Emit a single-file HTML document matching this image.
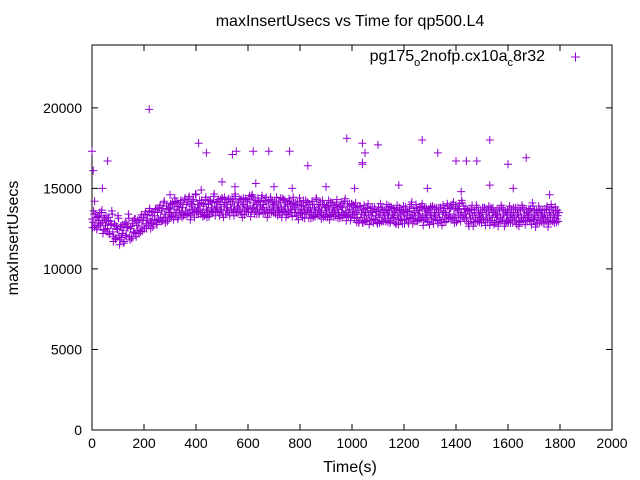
<!DOCTYPE html>
<html><head><meta charset="utf-8"><style>
html,body{margin:0;padding:0;background:#fff}
svg{display:block;font-family:"Liberation Sans",sans-serif}
</style></head><body>
<svg id="chart" width="640" height="480" viewBox="0 0 640 480">
<rect width="640" height="480" fill="#fff"/>
<text x="350" y="26" font-size="16" text-anchor="middle">maxInsertUsecs vs Time for qp500.L4</text>
<text x="350" y="472" font-size="16" text-anchor="middle">Time(s)</text>
<text transform="translate(18,238) rotate(-90)" font-size="16" text-anchor="middle">maxInsertUsecs</text>
<g id="axes"></g>
<g id="points"></g>
<text x="545" y="61" font-size="16" text-anchor="end">pg175<tspan font-size="11" dy="5">o</tspan><tspan dy="-5">2nofp.cx10a</tspan><tspan font-size="11" dy="5">c</tspan><tspan dy="-5">8r32</tspan></text>
<path d="M571 57h9M575.5 52.5v9" stroke="#9400d3" stroke-width="1"/>
</svg>
<script>
const xTicks=[0,200,400,600,800,1000,1200,1400,1600,1800,2000];
const yTicks=[0,5000,10000,15000,20000];
const bandStep=4;
const bandValues=[
13100,12900,13400,12700,13200,12600,13000,13300,12800,13500,12900,12400,13100,12700,13000,
12500,13000,12200,12800,13600,12300,12000,12700,11900,12500,13300,12100,11800,12600,12200,
12400,11700,12900,12100,12600,13400,12000,12500,11900,12800,12300,13100,12200,12700,12400,
12900,12300,13200,12600,13000,12500,13400,12800,13100,12700,13600,13000,12900,13300,12800,
13300,13700,12900,13500,13100,13800,13200,13600,13000,14100,13400,13200,13700,13100,13500,
13800,13400,14000,13300,13700,14200,13500,13900,13200,13600,14100,13500,13800,13300,14300,
13600,14000,13400,14400,13700,13300,13900,14200,13500,13800,14600,13400,13700,14000,13600,
14100,13500,13900,13300,14300,13700,13600,14000,13400,14200,13800,13500,14500,13900,13600,
13800,14200,13500,14000,13700,14400,13400,13900,14100,13600,13800,14300,13500,14000,13700,
14200,13600,13900,14500,13500,13800,14100,13700,14300,13400,13900,14000,13600,14200,13800,
13700,14300,13900,13500,14600,13800,14100,13600,14000,13700,14200,13500,13900,14400,13800,
14000,13600,14200,13800,13500,14100,13700,14300,13600,13900,14000,13500,14200,13800,13700,
13600,14100,13800,13500,14300,13700,13900,13400,14000,13600,14200,13700,13500,13900,14100,
13800,13500,14000,13300,13700,14200,13600,13400,13900,13700,13500,14100,13600,13800,13400,
13700,13500,14000,13300,13800,13600,14300,13400,13700,13900,13500,13600,14000,13300,13800,
13600,13400,13900,13700,13300,14100,13500,13800,13600,13400,14000,13700,13500,13300,13900,
13500,13800,13400,14200,13600,13300,13900,13500,13700,13200,14000,13600,13400,13800,13500,
13200,13600,13000,13900,13400,12900,13700,13300,13500,13100,13800,13400,13000,13600,13300,
13500,13100,13700,13300,12900,13600,13200,13400,13800,13000,13500,13300,13100,13700,13400,
13300,13600,13000,13800,13400,13200,13500,12800,13700,13300,13100,13600,13400,13000,13500,
13400,13100,13700,13300,12900,13600,13200,14000,13400,13100,13500,13300,13800,13000,13400,
13600,13200,13900,13300,13000,13700,13400,13200,13600,12900,13500,13300,13800,13100,13400,
13300,13700,13000,13500,13200,13800,12900,13400,13600,13100,13500,13300,13900,13200,13400,
13800,13100,14000,13400,13200,13700,13000,13600,13900,13300,13500,14100,13200,13700,13400,
13200,13600,12800,13400,13100,13700,13300,12900,13500,13200,13800,13000,13400,13300,13100,
13500,13200,13800,12900,13400,13100,13600,13300,13000,13700,13200,13500,12900,13400,13200,
13300,12900,13600,13200,13800,13100,13400,12800,13500,13300,13000,13700,13200,13400,13100,
13500,13200,13700,13000,13400,13300,12900,13600,13200,13800,13100,13400,13000,13500,13300,
13200,13600,13000,13400,13900,13100,13300,12800,13500,13200,13700,13000,13400,13300,13100,
13400,13100,13700,13200,12900,13500,13300,13800,13000,13400,13200,13600,13100,13300,13500];
const outlierTimes=[0,5,10,40,60,220,410,440,540,555,620,680,760,830,980,1040,1040,1040,1050,1100,1270,1330,1400,1440,1480,1530,1600,1670,300,420,500,550,630,700,770,900,1010,1180,1290,1420,1530,1620,1760];
const outlierValues=[17300,16100,14200,15000,16700,19900,17800,17200,17100,17300,17300,17300,17300,16400,18100,17800,16600,16500,17200,17700,18000,17200,16700,16700,16700,18000,16500,16900,14600,14900,15400,15100,15300,15100,15000,15100,15000,15200,15000,14800,15200,15000,14600];
const X0=92,X1=612,Y0=430,YT=45,XMAX=2000,YMAX=23900;
const sx=v=>X0+(X1-X0)*v/XMAX;
const sy=v=>Y0-(Y0-YT)*v/YMAX;
const NS="http://www.w3.org/2000/svg";
const axes=document.getElementById('axes');
let frame=document.createElementNS(NS,'rect');
frame.setAttribute('x',X0);frame.setAttribute('y',YT);frame.setAttribute('width',X1-X0);frame.setAttribute('height',Y0-YT);
frame.setAttribute('fill','none');frame.setAttribute('stroke','#000');


axes.appendChild(frame);
xTicks.forEach(t=>{
  const x=sx(t);
  const p=document.createElementNS(NS,'path');
  p.setAttribute('d',`M${x} ${Y0}v-6M${x} ${YT}v6`);p.setAttribute('stroke','#000');
  
  
  axes.appendChild(p);
  const l=document.createElementNS(NS,'text');
  l.setAttribute('x',x);l.setAttribute('y',Y0+18);l.setAttribute('font-size','14');l.setAttribute('text-anchor','middle');
  l.textContent=t;
  
  
  axes.appendChild(l);
});
yTicks.forEach(t=>{
  const y=sy(t);
  const p=document.createElementNS(NS,'path');
  p.setAttribute('d',`M${X0} ${y}h6M${X1} ${y}h-6`);p.setAttribute('stroke','#000');
  
  
  axes.appendChild(p);
  const l=document.createElementNS(NS,'text');
  l.setAttribute('x',X0-10);l.setAttribute('y',y+5);l.setAttribute('font-size','14');l.setAttribute('text-anchor','end');
  l.textContent=t;
  
  
  axes.appendChild(l);
});
const pts=document.getElementById('points');
let d='';
const add=(t,v)=>{const x=sx(t),y=sy(v);d+=`M${(x-4).toFixed(1)} ${y.toFixed(1)}h8M${x.toFixed(1)} ${(y-4).toFixed(1)}v8`;};
bandValues.forEach((v,i)=>add(i*bandStep,v));
bandValues.forEach((v,i)=>{if(i+1<bandValues.length)add(i*bandStep+2,(v+bandValues[i+1])/2+(i%2?450:-450));});
outlierTimes.forEach((t,i)=>add(t,outlierValues[i]));
const path=document.createElementNS(NS,'path');
path.setAttribute('d',d);path.setAttribute('stroke','#9400d3');path.setAttribute('stroke-width','1');path.setAttribute('fill','none');


pts.appendChild(path);
</script>
</body></html>
